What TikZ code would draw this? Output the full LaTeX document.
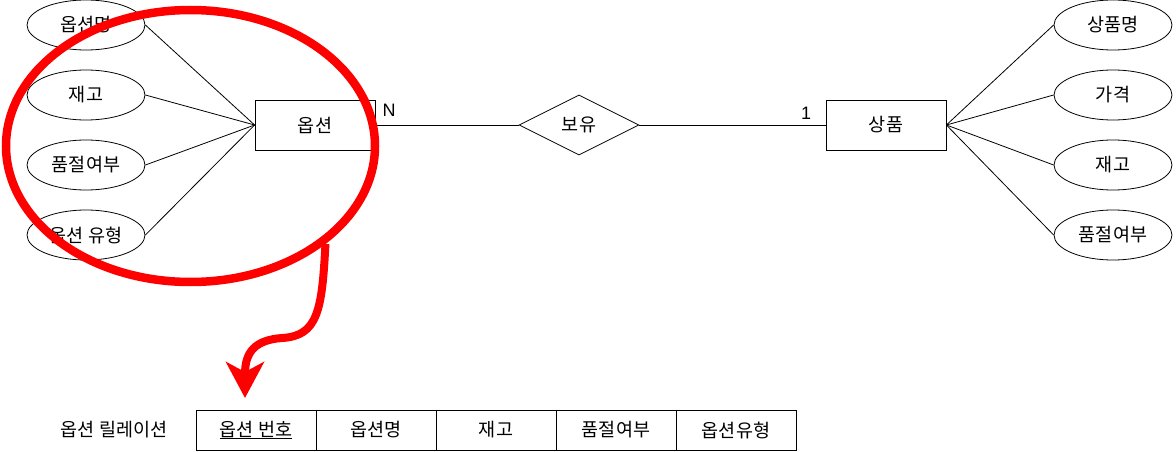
\documentclass[tikz,border=0pt]{standalone}
\usepackage{fontspec}
\setmainfont{Noto Sans CJK KR}
\newfontfamily\latinfont{Liberation Sans}
\usetikzlibrary{arrows.meta}
\usetikzlibrary{shapes.geometric}
\tikzset{Attr/.style={ellipse,draw=black,line width=0.8pt,minimum width=118pt,minimum height=50pt,inner sep=0pt}}
\tikzset{Entity/.style={rectangle,draw=black,line width=0.8pt,minimum width=120pt,minimum height=50pt,inner sep=0pt}}

\begin{document}
\begin{tikzpicture}[x=1pt, y=-1pt, font=\fontsize{18.5}{20}\selectfont,
    Rel/.style={diamond, draw=black, line width=0.8pt, minimum width=120pt, minimum height=60pt, inner sep=0pt},
    Cell/.style={rectangle, draw=black, line width=0.8pt, minimum width=120pt, minimum height=40pt, inner sep=0pt},
    Card/.style={font=\latinfont\fontsize{18}{20}\selectfont, inner sep=0pt}]
        \useasboundingbox (0,0) rectangle (1176,452);
        \node[Attr] (oname) at (86,25) {옵션명};
        \node[Attr] (ostock) at (86,95) {재고};
        \node[Attr] (osold) at (86,165) {품절여부};
        \node[Attr] (otype) at (86,235) {옵션 유형};
        \node[Entity] (option) at (315,125) {옵션};
        \node[Rel] (has) at (579,125) {보유};
        \node[Entity] (product) at (886,125) {상품};
        \node[Attr] (pname) at (1113,25) {상품명};
        \node[Attr] (pprice) at (1113,95) {가격};
        \node[Attr] (pstock) at (1113,165) {재고};
        \node[Attr] (psold) at (1113,235) {품절여부};
        \node[Card] (n) at (389,110) {N};
        \node[Card] (one) at (806,113) {1};

        \draw[line width=0.8pt] (oname.east) -- (option.west);
        \draw[line width=0.8pt] (ostock.east) -- (option.west);
        \draw[line width=0.8pt] (osold.east) -- (option.west);
        \draw[line width=0.8pt] (otype.east) -- (option.west);
        \draw[line width=0.8pt] (option.east) -- (has.west);
        \draw[line width=0.8pt] (has.east) -- (product.west);
        \draw[line width=0.8pt] (product.east) -- (pname.west);
        \draw[line width=0.8pt] (product.east) -- (pprice.west);
        \draw[line width=0.8pt] (product.east) -- (pstock.west);
        \draw[line width=0.8pt] (product.east) -- (psold.west);

        \node (rel) at (114,430) {옵션 릴레이션};
        \node[Cell] (c1) at (256,430) {\underline{옵션 번호}};
        \node[Cell] (c2) at (376,430) {옵션명};
        \node[Cell] (c3) at (496,430) {재고};
        \node[Cell] (c4) at (616,430) {품절여부};
        \node[Cell] (c5) at (736,430) {옵션유형};

        \node[ellipse, draw=red, line width=8.5pt, minimum width=369pt, minimum height=272pt, inner sep=0pt] (focus) at (190.5,146) {};
        \coordinate (tip) at (245,398);
        \draw[red, line width=8pt, -{Stealth[length=36pt,width=38pt,inset=10pt]}] (focus.-36) .. controls (322,310) and (318,336) .. (282,338) .. controls (255,340) and (245,352) .. (tip);
    \end{tikzpicture}
\end{document}
